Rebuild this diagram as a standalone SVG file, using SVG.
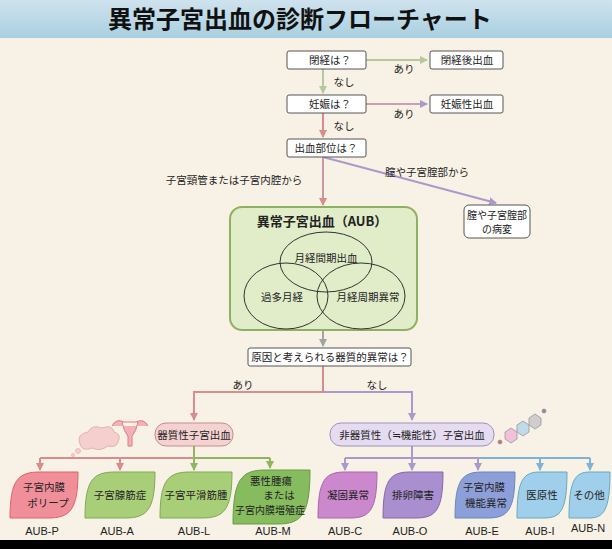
<svg xmlns="http://www.w3.org/2000/svg" width="612" height="549" viewBox="0 0 612 549">
<defs>
<linearGradient id="tg" x1="0" y1="0" x2="0" y2="1"><stop offset="0" stop-color="#cfe3ee"/><stop offset="1" stop-color="#a9cfe0"/></linearGradient>
<marker id="ag" markerWidth="8" markerHeight="8" refX="7" refY="4" orient="auto" markerUnits="userSpaceOnUse"><path d="M0,0 L8,4 L0,8 Z" fill="#b5c99a"/></marker>
<marker id="ap" markerWidth="8" markerHeight="8" refX="7" refY="4" orient="auto" markerUnits="userSpaceOnUse"><path d="M0,0 L8,4 L0,8 Z" fill="#d98c8c"/></marker>
<marker id="al" markerWidth="8" markerHeight="8" refX="7" refY="4" orient="auto" markerUnits="userSpaceOnUse"><path d="M0,0 L8,4 L0,8 Z" fill="#a99acb"/></marker>
<marker id="agr" markerWidth="8" markerHeight="8" refX="7" refY="4" orient="auto" markerUnits="userSpaceOnUse"><path d="M0,0 L8,4 L0,8 Z" fill="#8fb55e"/></marker>
<marker id="ab" markerWidth="8" markerHeight="8" refX="7" refY="4" orient="auto" markerUnits="userSpaceOnUse"><path d="M0,0 L8,4 L0,8 Z" fill="#7fb3d6"/></marker>
<marker id="ac" markerWidth="8" markerHeight="8" refX="7" refY="4" orient="auto" markerUnits="userSpaceOnUse"><path d="M0,0 L8,4 L0,8 Z" fill="#a3a3a3"/></marker>
</defs>
<style>
text{font-family:"Noto Sans CJK JP","Noto Sans",sans-serif;font-size:10.5px;fill:#222}
.box{fill:#fff;stroke:#555;stroke-width:1}
.c{fill:none;stroke-width:2}
.t{text-anchor:middle}
.lab{font-family:"Liberation Sans","Noto Sans CJK JP",sans-serif;font-size:11px;text-anchor:middle}
.leaf{stroke-width:1}
</style>
<rect width="612" height="549" fill="#f8f2e6"/>
<rect width="612" height="38" fill="url(#tg)"/>
<text x="300" y="28" class="t" style="font-size:24px;font-weight:bold;fill:#111">異常子宮出血の診断フローチャート</text>

<g id="connectors">
<path class="c" stroke="#b5c99a" d="M366,60 H427" marker-end="url(#ag)"/>
<path class="c" stroke="#b5c99a" d="M323,69 V93" marker-end="url(#ag)"/>
<path class="c" stroke="#c9a0b4" d="M366,104 H427" marker-end="url(#al)"/>
<path class="c" stroke="#d98c8c" d="M323,113 V137" marker-end="url(#ap)"/>
<path class="c" stroke="#c99aa6" d="M323,157 V205" marker-end="url(#ap)"/>
<path class="c" stroke="#a99acb" d="M323,157 L496,203" marker-end="url(#al)"/>
<path class="c" stroke="#a3a3a3" d="M323,330 V346" marker-end="url(#ac)"/>
<path class="c" stroke="#d98c8c" d="M323,366 V392 H194 V420" marker-end="url(#ap)"/>
<path class="c" stroke="#a99acb" d="M323,392 H412 V420" marker-end="url(#al)"/>
<path class="c" stroke="#8fb55e" d="M194,446 V458"/>
<path class="c" stroke="#d98c8c" d="M40,458 H194"/>
<path class="c" stroke="#d98c8c" d="M40,458 V470" marker-end="url(#ap)"/>
<path class="c" stroke="#d98c8c" d="M120,458 V470" marker-end="url(#ap)"/>
<path class="c" stroke="#8fb55e" d="M194,458 H270"/>
<path class="c" stroke="#8fb55e" d="M194,458 V470" marker-end="url(#agr)"/>
<path class="c" stroke="#8fb55e" d="M270,458 V468" marker-end="url(#agr)"/>
<path class="c" stroke="#a99acb" d="M412,446 V470" marker-end="url(#al)"/>
<path class="c" stroke="#a99acb" d="M345,458 H495"/>
<path class="c" stroke="#a99acb" d="M345,458 V470" marker-end="url(#al)"/>
<path class="c" stroke="#a99acb" d="M478,458 V470" marker-end="url(#al)"/>
<path class="c" stroke="#7fb3d6" d="M478,458 H590"/>
<path class="c" stroke="#7fb3d6" d="M540,458 V470" marker-end="url(#ab)"/>
<path class="c" stroke="#7fb3d6" d="M590,458 V470" marker-end="url(#ab)"/>
<text x="404" y="73" class="t">あり</text>
<text x="344" y="86" class="t">なし</text>
<text x="404" y="118" class="t">あり</text>
<text x="344" y="130" class="t">なし</text>
<text x="427" y="176" class="t">膣や子宮腟部から</text>
<text x="234" y="184" class="t">子宮頸管または子宮内腔から</text>
<text x="243" y="389" class="t">あり</text>
<text x="377" y="389" class="t">なし</text>
</g>

<g id="n1"><rect class="box" x="287" y="51" width="79" height="18" rx="2"/><text x="330" y="64" class="t">閉経は？</text></g>
<g id="n2"><rect class="box" x="430" y="51" width="73" height="18" rx="2"/><text x="467" y="64" class="t">閉経後出血</text></g>
<g id="n3"><rect class="box" x="287" y="95" width="79" height="18" rx="2"/><text x="330" y="108" class="t">妊娠は？</text></g>
<g id="n4"><rect class="box" x="430" y="95" width="73" height="18" rx="2"/><text x="467" y="108" class="t">妊娠性出血</text></g>
<g id="n5"><rect class="box" x="287" y="139" width="79" height="18" rx="2"/><text x="326" y="152" class="t">出血部位は？</text></g>
<g id="n6"><rect class="box" x="464" y="205" width="66" height="33" rx="5"/><text x="497" y="219" class="t" style="font-size:10px">膣や子宮腟部</text><text x="497" y="233" class="t" style="font-size:10px">の病変</text></g>
<g id="aub">
<rect x="230" y="207" width="187" height="123" rx="12" fill="#e1ecc9" stroke="#8fb060" stroke-width="2"/>
<text x="322" y="226" class="t" style="font-size:13px;font-weight:bold">異常子宮出血（AUB）</text>
<g fill="none" stroke="#333" stroke-width="1">
<ellipse cx="326" cy="262" rx="46" ry="30"/>
<ellipse cx="286" cy="296" rx="42" ry="33"/>
<ellipse cx="361" cy="296" rx="44" ry="33"/>
</g>
<text x="326" y="262" class="t">月経間期出血</text>
<text x="282" y="301" class="t">過多月経</text>
<text x="368" y="301" class="t">月経周期異常</text>
</g>
<g id="n7"><rect class="box" x="248" y="348" width="163" height="18" rx="2"/><text x="330" y="361" class="t">原因と考えられる器質的異常は？</text></g>
<g id="n8"><rect x="155" y="423" width="78" height="23" rx="11" fill="#f5d2d2" stroke="#c98a8a"/><text x="194" y="439" class="t">器質性子宮出血</text></g>
<g id="n9"><rect x="330" y="423" width="164" height="23" rx="11" fill="#e6dcf2" stroke="#a090c0"/><text x="412" y="439" class="t">非器質性（≒機能性）子宮出血</text></g>

<g id="deco" opacity="0.85">
<path d="M80,444 q-4,-10 8,-12 q4,-8 14,-4 q10,-4 12,4 q8,2 4,10 q-2,6 -10,4 q-8,6 -16,2 q-10,4 -12,-4z" fill="#f5c9c9" stroke="#d99" stroke-width="0.8"/>
<circle cx="78" cy="451" r="2.5" fill="#f5c9c9" stroke="#d99" stroke-width="0.6"/>
<circle cx="73" cy="455" r="1.5" fill="#f5c9c9" stroke="#d99" stroke-width="0.6"/>
<path d="M112,426 q4,-8 12,-4 h12 q8,-4 12,4 M122,422 q2,10 6,14 l0,10 l4,0 l0,-10 q4,-4 6,-14" fill="#f2a6b0" stroke="#d66" stroke-width="1"/>
<g stroke="#888" stroke-width="0.8">
<polygon points="505,432 511,428 517,432 517,439 511,443 505,439" fill="#f2b8d8"/>
<polygon points="517,425 523,421 529,425 529,432 523,436 517,432" fill="#b8d6ec"/>
<polygon points="529,418 535,414 541,418 541,425 535,429 529,425" fill="#c8c8c8"/>
<circle cx="500" cy="442" r="2" fill="#c55"/><circle cx="544" cy="411" r="2" fill="#a5a"/>
</g>
</g>

<g id="leafP"><path class="leaf" d="M10,518 C10,480 18,472 40,472 L78,472 C78,510 70,518 48,518 Z" fill="#f08f99" stroke="#d66"/><text x="44" y="491" class="t">子宮内膜</text><text x="48" y="507" class="t">ポリープ</text></g>
<g id="leafA"><path class="leaf" d="M85,518 C85,480 93,472 115,472 L155,472 C155,510 147,518 125,518 Z" fill="#a8cf78" stroke="#80a855"/><text x="120" y="499" class="t">子宮腺筋症</text></g>
<g id="leafL"><path class="leaf" d="M160,518 C160,480 168,472 190,472 L232,472 C232,510 224,518 202,518 Z" fill="#a8cf78" stroke="#80a855"/><text x="196" y="499" class="t">子宮平滑筋腫</text></g>
<g id="leafM"><path class="leaf" d="M233,524 C233,480 241,470 265,470 L310,470 C310,514 302,524 278,524 Z" fill="#86bb5e" stroke="#6a9a45"/><text x="271" y="485" class="t">悪性腫瘍</text><text x="279" y="499" class="t">または</text><text x="270" y="514" class="t" style="font-size:10px">子宮内膜増殖症</text></g>
<g id="leafC"><path class="leaf" d="M318,518 C318,480 325,472 345,472 L377,472 C377,510 370,518 350,518 Z" fill="#cc88cc" stroke="#a6a"/><text x="348" y="499" class="t">凝固異常</text></g>
<g id="leafO"><path class="leaf" d="M383,518 C383,480 390,472 410,472 L443,472 C443,510 436,518 416,518 Z" fill="#a98fd0" stroke="#86a"/><text x="413" y="499" class="t">排卵障害</text></g>
<g id="leafE"><path class="leaf" d="M455,518 C455,480 462,472 482,472 L515,472 C515,510 508,518 488,518 Z" fill="#8d9fd8" stroke="#68b"/><text x="484" y="491" class="t">子宮内膜</text><text x="486" y="507" class="t">機能異常</text></g>
<g id="leafI"><path class="leaf" d="M517,518 C517,480 523,472 540,472 L567,472 C567,510 561,518 544,518 Z" fill="#9fcfea" stroke="#6ab"/><text x="542" y="499" class="t">医原性</text></g>
<g id="leafN"><path class="leaf" d="M569,518 C569,480 575,472 590,472 L610,472 C610,510 604,518 589,518 Z" fill="#9fcfea" stroke="#6ab"/><text x="589" y="499" class="t">その他</text></g>

<g id="codes">
<text x="42" y="535" class="lab">AUB-P</text>
<text x="117" y="535" class="lab">AUB-A</text>
<text x="194" y="535" class="lab">AUB-L</text>
<text x="273" y="535" class="lab">AUB-M</text>
<text x="345" y="535" class="lab">AUB-C</text>
<text x="410" y="535" class="lab">AUB-O</text>
<text x="482" y="535" class="lab">AUB-E</text>
<text x="540" y="535" class="lab">AUB-I</text>
<text x="588" y="532" class="lab">AUB-N</text>
</g>
<rect x="0" y="540" width="612" height="9" fill="#000"/>
</svg>
